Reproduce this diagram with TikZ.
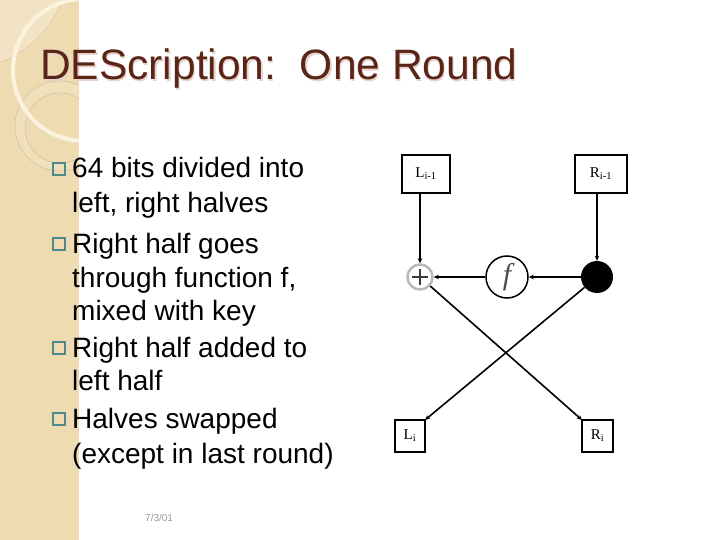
\documentclass[tikz,border=0pt]{standalone}
\usepackage{fontspec}
\setmainfont{Liberation Sans}
\newfontfamily\serifx{Liberation Serif}
\usetikzlibrary{arrows.meta}
\definecolor{stripc}{HTML}{EEDBB2}
\definecolor{cornerc}{HTML}{F2E3C4}
\definecolor{bandc}{HTML}{F1E0BC}
\definecolor{creamc}{HTML}{FBF3DD}
\definecolor{ringc}{HTML}{D2BF9C}
\definecolor{titlec}{HTML}{5A2416}
\definecolor{shadowc}{HTML}{E6D2CE}
\definecolor{bulc}{HTML}{4E8C8C}
\tikzset{
  bul/.style={draw=bulc, line width=1.2pt, minimum size=12pt, inner sep=0pt},
  btext/.style={anchor=base west, inner sep=0pt, font=\fontsize{28}{33}\selectfont},
  box/.style={draw, line width=1.5pt, inner sep=0pt, outer sep=0pt, font=\serifx\fontsize{15}{17}\selectfont},
  arr/.style={line width=1.6pt, -{Stealth[length=5pt,width=4.5pt]}},
}
\begin{document}
\begin{tikzpicture}[x=1pt,y=-1pt]
\useasboundingbox (0,0) rectangle (720,540);
\fill[white] (0,0) rectangle (720,540);
\begin{scope}
  \clip (0,0) rectangle (79,540);
  \fill[stripc] (0,0) rectangle (79,540);
  \fill[cornerc] (-40,-40) circle (110);
  \draw[ringc!60!stripc, line width=0.6pt] (-40,-40) circle (110);
  \fill[bandc, even odd rule] (60,126) circle (45) (60,128) circle (35);
  \draw[ringc, line width=0.5pt] (60,126) circle (45);
  \draw[ringc, line width=0.5pt] (60,128) circle (35);
  \draw[creamc, line width=4pt] (84,70) circle (71);
\end{scope}

% title
\node[anchor=base west, inner sep=0pt, text=shadowc, font=\fontsize{42.5}{50}\selectfont] (tshadow) at (41.2,81.2) {DEScription:\ \ One Round};
\node[anchor=base west, inner sep=0pt, text=titlec, font=\fontsize{42.5}{50}\selectfont] (title) at (40,80) {DEScription:\ \ One Round};

% bullets
\node[bul] (b1) at (59,169) {};
\node[btext] (t1) at (72,178) {64 bits divided into};
\node[btext] (t2) at (72,213) {left, right halves};
\node[bul] (b2) at (59,244) {};
\node[btext] (t3) at (72,253) {Right half goes};
\node[btext] (t4) at (72,287) {through function f,};
\node[btext] (t5) at (72,320) {mixed with key};
\node[bul] (b3) at (59,348) {};
\node[btext] (t6) at (72,357) {Right half added to};
\node[btext] (t7) at (72,390) {left half};
\node[bul] (b4) at (59,419) {};
\node[btext] (t8) at (72,428) {Halves swapped};
\node[btext] (t9) at (72,463) {(except in last round)};

\node[anchor=base west, inner sep=0pt, text=gray!80, font=\fontsize{10}{12}\selectfont] (date) at (145,521) {7/3/01};

% diagram
\node[box, minimum width=48pt, minimum height=38pt] (Lp) at (426,174) {L\textsubscript{i-1}};
\node[box, minimum width=52pt, minimum height=38pt] (Rp) at (601,174) {R\textsubscript{i-1}};
\node[box, minimum width=30pt, minimum height=32pt] (Li) at (410,436) {L\textsubscript{i}};
\node[box, minimum width=31pt, minimum height=32pt] (Ri) at (597.5,436) {R\textsubscript{i}};

\node[circle, draw=gray!55, line width=2.5pt, minimum size=25pt, inner sep=0pt] (xor) at (420,277) {};
\draw[gray!45!black, line width=2.2pt] ([xshift=-8pt]xor.center) -- ([xshift=8pt]xor.center);
\draw[gray!45!black, line width=2.2pt] ([yshift=-8pt]xor.center) -- ([yshift=8pt]xor.center);
\node[circle, draw, line width=1.5pt, minimum size=42pt, inner sep=0pt, text=gray!60!black, font=\serifx\itshape\fontsize{30}{30}\selectfont] (f) at (507,277) {f};
\node[circle, fill=black, minimum size=32pt, inner sep=0pt] (dot) at (597,277) {};

\draw[arr] (Lp.south -| xor) -- (xor.north);
\draw[arr] (Rp.south -| dot) -- (dot.north);
\draw[arr] (dot) -- (f);
\draw[arr] (f) -- (xor);
\draw[arr] (xor) -- (Ri.north west);
\draw[arr] (dot) -- (Li.north east);
\end{tikzpicture}
\end{document}
